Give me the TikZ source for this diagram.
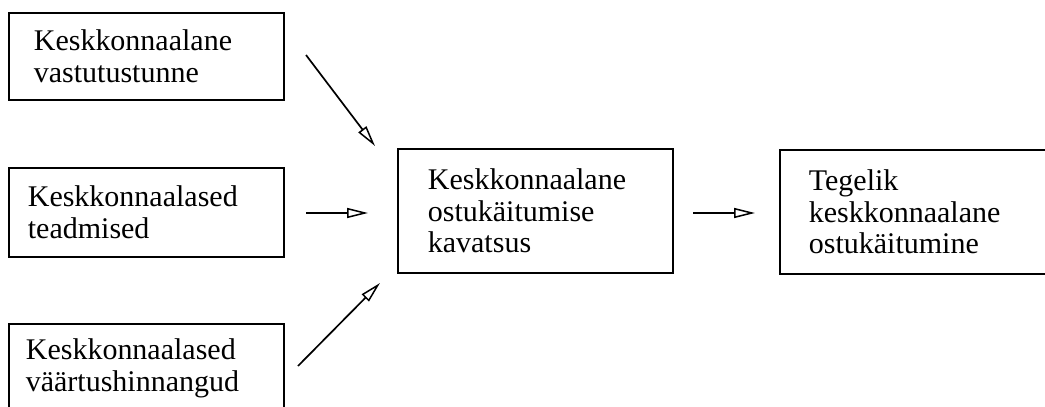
\documentclass[tikz,border=0pt]{standalone}
\usepackage{fontspec}
\setmainfont{Liberation Serif}
\usetikzlibrary{arrows.meta}
\begin{document}
\begin{tikzpicture}[x=1pt,y=-1pt,
  box/.style={draw, line width=1.7pt, rectangle, anchor=north west,
    minimum width=275pt, align=left, inner ysep=0pt,
    font=\fontsize{30}{31.5}\selectfont},
  flow/.style={line width=1.7pt, -{Triangle[open,length=21pt,width=10pt,line width=1.5pt]}}]
\useasboundingbox (0,0) rectangle (1045,407);
\clip (0,0) rectangle (1045,407);
\node[box, inner xsep=25pt, text width=225pt, minimum height=87pt] (vast) at (8,12) {Keskkonnaalane\\vastutustunne};
\node[box, inner xsep=19pt, text width=237pt, minimum height=89pt] (tead) at (8,167) {Keskkonnaalased\\teadmised};
\node[box, inner xsep=17pt, text width=241pt, minimum height=89pt] (vaar) at (8,323) {Keskkonnaalased\\väärtushinnangud};
\node[box, inner xsep=30pt, text width=215pt, minimum height=124pt] (kav) at (397,148) {Keskkonnaalane\\ostukäitumise\\kavatsus};
\node[box, inner xsep=29pt, text width=262pt, minimum width=320pt, minimum height=124pt] (teg) at (779,149) {Tegelik\\keskkonnaalane\\ostukäitumine};
\coordinate (a1s) at (306,55);
\coordinate (a1e) at (375,146);
\coordinate (a2s) at (306,213);
\coordinate (a2e) at (368,213);
\coordinate (a3s) at (298,366);
\coordinate (a3e) at (380,283);
\coordinate (a4s) at (693,213);
\coordinate (a4e) at (755,213);
\draw[flow] (a1s) -- (a1e);
\draw[flow] (a2s) -- (a2e);
\draw[flow] (a3s) -- (a3e);
\draw[flow] (a4s) -- (a4e);
\end{tikzpicture}
\end{document}
